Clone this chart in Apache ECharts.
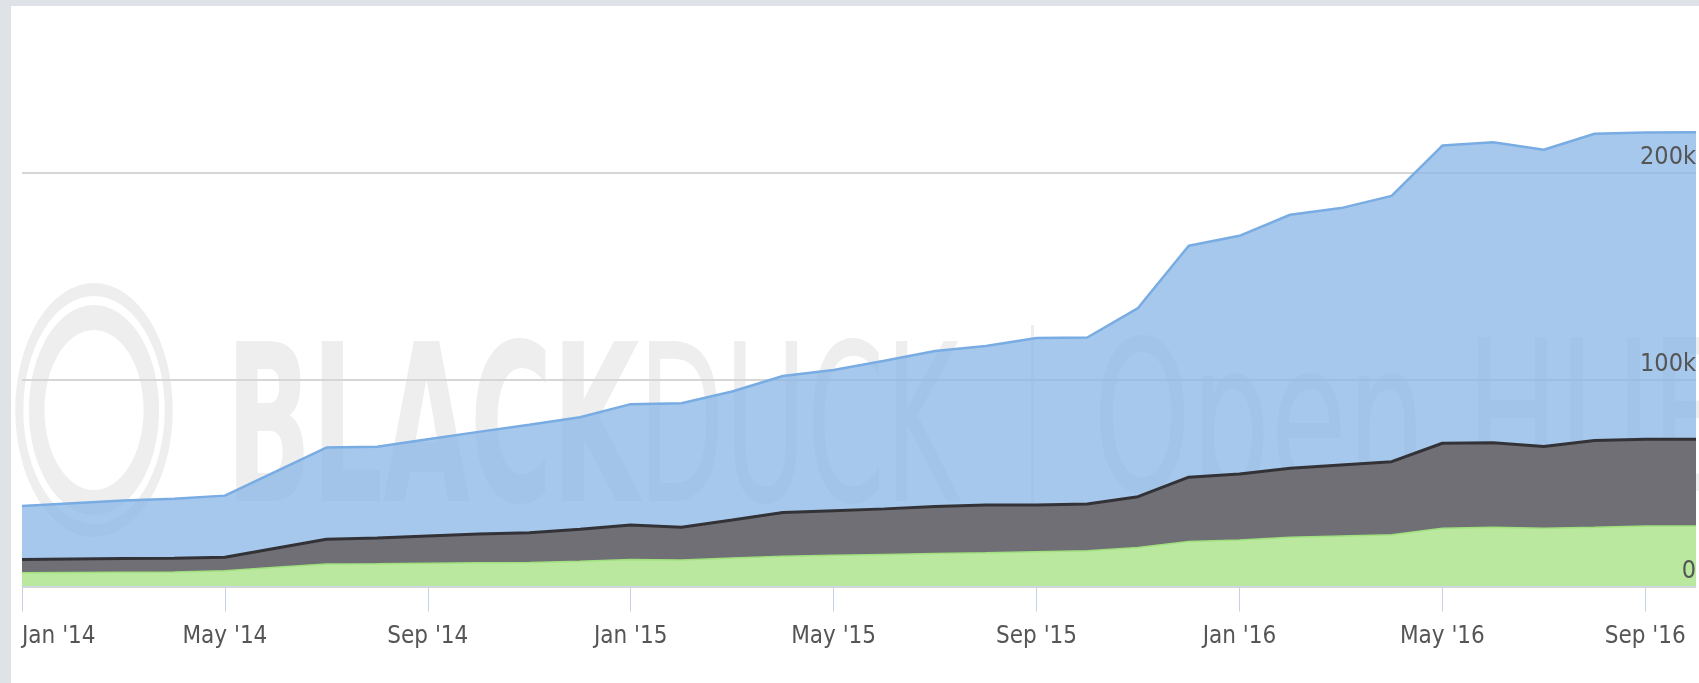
<!DOCTYPE html>
<html>
<head>
<meta charset="utf-8">
<script src="https://cdn.jsdelivr.net/npm/echarts@6/dist/echarts.min.js"></script>
<style>
  html, body { margin: 0; padding: 0; width: 1699px; height: 683px; overflow: hidden; background: #dfe3e8; }
  #panel { position: absolute; left: 11px; top: 6px; width: 1688px; height: 677px; background: #ffffff; }
  #chart { position: absolute; left: 0; top: 0; width: 1699px; height: 683px; }
</style>
</head>
<body>
<div id="panel"></div>
<div id="chart"></div>
<script>
// Monthly categories (Jan 2014 - Oct 2016)
const months = [
  "Jan '14","Feb '14","Mar '14","Apr '14","May '14","Jun '14","Jul '14","Aug '14","Sep '14","Oct '14","Nov '14","Dec '14",
  "Jan '15","Feb '15","Mar '15","Apr '15","May '15","Jun '15","Jul '15","Aug '15","Sep '15","Oct '15","Nov '15","Dec '15",
  "Jan '16","Feb '16","Mar '16","Apr '16","May '16","Jun '16","Jul '16","Aug '16","Sep '16","Oct '16"
];
// Bottom layer (green)
const greenValues = [6700,6800,6900,7000,7600,9300,10900,11000,11200,11500,11600,12200,
  13100,12800,13800,14600,15100,15500,15900,16300,16800,17300,18800,21700,
  22500,23800,24400,25000,28100,28600,28100,28600,29200,29200];
// Middle layer (dark grey)
const greyValues = [6400,6500,6600,6700,6500,9200,11900,12400,13200,13900,14400,15400,
  16600,15800,18300,21100,21500,22000,22700,23100,22600,22600,24600,31100,
  31900,33300,34300,35300,41100,40900,39500,41900,41900,41900];
// Top layer (blue)
const blueValues = [25800,26900,28000,28700,29800,37000,44300,44100,46700,49300,52100,54200,
  58400,59900,62100,66000,68000,71600,75200,76800,80600,80400,91100,111800,
  115000,122500,124100,128400,143800,145100,143400,148200,148200,148400];
// Watermark text
const watermarkWords = ["BLACK", "DUCK", "Open HUB"];

const FONT = "'Liberation Sans Narrow', 'DejaVu Sans Condensed', 'Arial Narrow', sans-serif";
const WM = '#eeeeee';

const chart = echarts.init(document.getElementById('chart'), null, { renderer: 'canvas' });

function areaSeries(name, data, fill, line, lineWidth) {
  return {
    name: name,
    type: 'line',
    stack: 'total',
    yAxisIndex: 0,
    data: data,
    symbol: 'none',
    showSymbol: false,
    smooth: false,
    z: 2,
    lineStyle: { color: line, width: lineWidth },
    itemStyle: { color: line },
    areaStyle: { color: fill, opacity: 1 },
    emphasis: { disabled: true },
    animation: false
  };
}

const yBase = { type: 'value', position: 'right', min: 0, max: 250000, interval: 100000,
                axisLine: { show: false }, axisTick: { show: false } };

chart.setOption({
  backgroundColor: 'transparent',
  animation: false,
  grid: { left: 22, right: 3, top: 69, bottom: 96.5, containLabel: false, outerBoundsMode: 'none' },
  xAxis: {
    type: 'category',
    data: months,
    boundaryGap: false,
    z: 10,
    axisLine: { show: true, lineStyle: { color: '#ccd6eb', width: 1 } },
    axisTick: { show: true, interval: 3, length: 25, alignWithLabel: true, lineStyle: { color: '#c6d2e4', width: 1 } },
    axisLabel: {
      show: true, interval: 3, margin: 38, color: '#555555',
      fontFamily: FONT, fontSize: 24, alignMinLabel: 'left'
    },
    splitLine: { show: false }
  },
  yAxis: [
    Object.assign({}, yBase, {
      z: 0,
      axisLabel: { show: false },
      splitLine: { show: true, lineStyle: { color: ['#d6d6d6', '#d6d6d6', '#d6d6d6', 'rgba(0,0,0,0)'], width: 2 } }
    }),
    Object.assign({}, yBase, {
      z: 10,
      splitLine: { show: false },
      axisLabel: {
        show: true, inside: true, margin: 0, color: '#555555',
        fontFamily: FONT, fontSize: 25, verticalAlign: 'bottom', padding: [0, 0, 3, 0],
        showMaxLabel: false,
        formatter: function (v) { return v === 0 ? '0' : (v / 1000) + 'k'; }
      }
    })
  ],
  series: [
    areaSeries('Green', greenValues, '#b9e89e', '#a0e07e', 1.5),
    areaSeries('Grey', greyValues, '#706f75', '#333337', 3),
    areaSeries('Blue', blueValues, 'rgba(136,182,230,0.75)', '#78ace3', 2.5)
  ],
  graphic: [
    { type: 'ring', x: 94, y: 410, scaleX: 0.62, z: 0, silent: true,
      shape: { cx: 0, cy: 0, r: 127, r0: 114 }, style: { fill: WM } },
    { type: 'ring', x: 94, y: 410, scaleX: 0.62, z: 0, silent: true,
      shape: { cx: 0, cy: 0, r: 105, r0: 80 }, style: { fill: WM } },
    { type: 'text', x: 226, y: 444, scaleX: 0.567, z: 0, silent: true,
      style: { text: watermarkWords[0], fontFamily: FONT, fontWeight: 'bold', fontSize: 220,
               fill: WM, align: 'left', verticalAlign: 'middle' } },
    { type: 'text', x: 638, y: 444, scaleX: 0.567, z: 0, silent: true,
      style: { text: watermarkWords[1], fontFamily: FONT, fontWeight: 'normal', fontSize: 220,
               fill: WM, align: 'left', verticalAlign: 'middle' } },
    { type: 'rect', x: 1031, y: 325, z: 0, silent: true,
      shape: { x: 0, y: 0, width: 3, height: 210 }, style: { fill: WM } },
    { type: 'text', x: 1093, y: 436, scaleX: 0.66, z: 0, silent: true,
      style: { text: watermarkWords[2], fontFamily: FONT, fontWeight: 'normal', fontSize: 210,
               fill: WM, align: 'left', verticalAlign: 'middle' } }
  ]
});
</script>
</body>
</html>
